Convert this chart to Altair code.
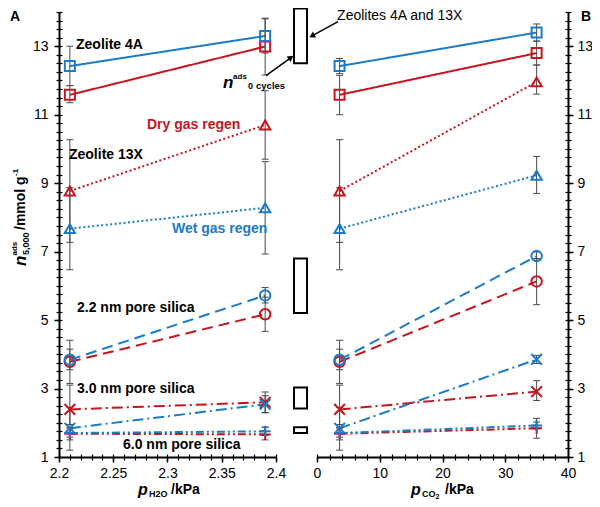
import altair as alt
import pandas as pd

RED = "#C3161E"
BLUE = "#1A7BC8"
GREY = "#4a4a4a"
FONT = "Liberation Sans"

materials = ["4A", "13X", "2.2nm", "3.0nm", "6.0nm"]
regens = ["dry", "wet"]

# x positions of the measurements
x_A = [2.21, 2.39]   # p_H2O / kPa
x_B = [3.6, 35.0]    # p_CO2 / kPa

# Panel A values (n_ads 5,000 / mmol g-1)
A_dry = {"4A": [11.58, 12.99], "13X": [8.77, 10.70], "2.2nm": [3.78, 5.17], "3.0nm": [2.39, 2.60], "6.0nm": [1.68, 1.66]}
A_wet = {"4A": [12.42, 13.30], "13X": [7.67, 8.28], "2.2nm": [3.84, 5.72], "3.0nm": [1.84, 2.54], "6.0nm": [1.70, 1.75]}
# Panel B values
B_dry = {"4A": [11.58, 12.80], "13X": [8.77, 11.96], "2.2nm": [3.78, 6.13], "3.0nm": [2.39, 2.91], "6.0nm": [1.68, 1.84]}
B_wet = {"4A": [12.42, 13.40], "13X": [7.67, 9.23], "2.2nm": [3.84, 6.87], "3.0nm": [1.84, 3.85], "6.0nm": [1.70, 1.92]}

# error bar ends
A_dry_lo = {"4A": [11.35, 12.16], "13X": [7.27, 9.70], "2.2nm": [3.15, 4.67], "3.0nm": [1.95, 2.30], "6.0nm": [1.50, 1.50]}
A_dry_hi = {"4A": [11.85, 13.82], "13X": [10.27, 11.70], "2.2nm": [4.41, 5.67], "3.0nm": [3.10, 2.90], "6.0nm": [1.86, 1.87]}
A_wet_lo = {"4A": [11.85, 12.80], "13X": [6.47, 6.93], "2.2nm": [3.55, 5.50], "3.0nm": [1.20, 2.29], "6.0nm": [1.58, 1.63]}
A_wet_hi = {"4A": [13.00, 13.80], "13X": [8.87, 9.63], "2.2nm": [4.15, 5.95], "3.0nm": [2.45, 2.79], "6.0nm": [1.82, 1.87]}
B_dry_lo = {"4A": [11.00, 12.45], "13X": [7.27, 11.60], "2.2nm": [3.15, 5.45], "3.0nm": [1.95, 2.65], "6.0nm": [1.50, 1.55]}
B_dry_hi = {"4A": [12.15, 13.15], "13X": [10.27, 12.45], "2.2nm": [4.41, 6.80], "3.0nm": [3.10, 3.23], "6.0nm": [1.86, 2.13]}
B_wet_lo = {"4A": [12.20, 13.15], "13X": [6.47, 8.70], "2.2nm": [3.55, 6.75], "3.0nm": [1.20, 3.73], "6.0nm": [1.58, 1.82]}
B_wet_hi = {"4A": [12.64, 13.65], "13X": [8.87, 9.78], "2.2nm": [4.15, 6.99], "3.0nm": [2.45, 3.97], "6.0nm": [1.82, 2.02]}

# n_ads 0 cycles ranges (boxes between the panels, in panel A x units)
box_x = [2.4166, 2.4286]
box_lo = [12.50, 5.21, 2.42, 1.70]
box_hi = [14.10, 6.80, 3.03, 1.87]

y_ticks = [1, 3, 5, 7, 9, 11, 13]
xA_ticks = [2.2, 2.25, 2.3, 2.35, 2.4]
xB_ticks = [0, 10, 20, 30, 40]
y_minor = [1 + 0.25 * i for i in range(53)]
xA_minor = [round(2.2 + 0.01 * i, 2) for i in range(21)]
xB_minor = [2 * i for i in range(21)]


def build(xs, dry, wet, dlo, dhi, wlo, whi):
    rows = []
    for m in materials:
        for r, vals, lo, hi in (("dry", dry, dlo, dhi), ("wet", wet, wlo, whi)):
            for i in range(2):
                rows.append({"material": m, "regen": r, "series": m + r,
                             "x": xs[i], "y": vals[m][i], "lo": lo[m][i], "hi": hi[m][i]})
    return pd.DataFrame(rows)


dfA = build(x_A, A_dry, A_wet, A_dry_lo, A_dry_hi, A_wet_lo, A_wet_hi)
dfB = build(x_B, B_dry, B_wet, B_dry_lo, B_dry_hi, B_wet_lo, B_wet_hi)

yscale = alt.Scale(domain=[1, 14], nice=False, zero=False)
xAscale = alt.Scale(domain=[2.2, 2.4], range=[0, 217], nice=False, zero=False)
xBscale = alt.Scale(domain=[0, 40], range=[258, 509], nice=False, zero=False)

color = alt.Color("regen:N", scale=alt.Scale(domain=regens, range=[RED, BLUE]), legend=None)
dash = alt.StrokeDash("material:N", scale=alt.Scale(domain=materials,
                      range=[[1, 0], [2, 2.5], [11, 6], [11, 4, 2, 4], [8, 3, 2, 3, 2, 3]]), legend=None)
shape = alt.Shape("material:N", scale=alt.Scale(domain=materials,
                  range=["square", "triangle-up", "circle", "M-1,-1L1,1M-1,1L1,-1", "M0,-1L0,1M-1,0L1,0"]), legend=None)
size = alt.Size("material:N", scale=alt.Scale(domain=materials, range=[100, 120, 125, 110, 130]), legend=None)


def main_axis(orient, values, fmt, pad):
    return alt.Axis(orient=orient, values=values, format=fmt, title=None, grid=False,
                    domain=True, domainColor="black", domainWidth=2,
                    ticks=True, tickSize=5, tickWidth=1.5, tickColor="black",
                    labelFont=FONT, labelFontSize=14, labelColor="black", labelPadding=pad,
                    labelFlush=False, labelOverlap=False)


def minor_axis(orient, values):
    return alt.Axis(orient=orient, values=values, title=None, grid=False, domain=False,
                    labels=False, ticks=True, tickSize=6, tickWidth=1.2, tickColor="black", offset=-3)


def panel(df, xscale, xmain, xminor, ymain, yminor):
    base = alt.Chart(df)
    lines = base.mark_line(strokeWidth=2).encode(
        x=alt.X("x:Q", scale=xscale, axis=xmain),
        y=alt.Y("y:Q", scale=yscale, axis=ymain),
        color=color, strokeDash=dash, detail="series:N")
    err = base.mark_rule(color=GREY, strokeWidth=1).encode(
        x=alt.X("x:Q", scale=xscale, axis=None),
        y=alt.Y("lo:Q", scale=yscale, axis=None), y2="hi:Q")
    caps = base.transform_fold(["lo", "hi"], as_=["k", "v"]).mark_tick(
        orient="horizontal", size=7, thickness=1, color=GREY, opacity=1).encode(
        x=alt.X("x:Q", scale=xscale, axis=None),
        y=alt.Y("v:Q", scale=yscale, axis=None))
    pts = base.mark_point(filled=False, strokeWidth=2, opacity=1).encode(
        x=alt.X("x:Q", scale=xscale, axis=xminor),
        y=alt.Y("y:Q", scale=yscale, axis=yminor),
        color=color, shape=shape, size=size)
    return [lines, err, caps, pts]


layersA = panel(dfA, xAscale, main_axis("bottom", xA_ticks, "~g", 4), minor_axis("bottom", xA_minor),
                main_axis("left", y_ticks, "d", 6), minor_axis("left", y_minor))
layersB = panel(dfB, xBscale, main_axis("bottom", xB_ticks, "d", 4), minor_axis("bottom", xB_minor),
                main_axis("right", y_ticks, "d", 4), minor_axis("right", y_minor))

# boxes (n_ads 0 cycles)
df_box = pd.DataFrame({"x0": [box_x[0]] * 4, "x1": [box_x[1]] * 4, "lo": box_lo, "hi": box_hi})
boxes = alt.Chart(df_box).mark_rect(fillOpacity=0, stroke="black", strokeWidth=2).encode(
    x=alt.X("x0:Q", scale=xAscale, axis=None), x2="x1:Q",
    y=alt.Y("lo:Q", scale=yscale, axis=None), y2="hi:Q")

# annotations in panel A (data coordinates)
ann_labels = ["Zeolite 4A", "Zeolite 13X", "Dry gas regen", "Wet gas regen",
              "2.2 nm pore silica", "3.0 nm pore silica", "6.0 nm pore silica"]
ann_x = [2.2157, 2.2092, 2.2811, 2.3041, 2.2166, 2.2166, 2.2590]
ann_y = [13.04, 9.82, 10.69, 7.67, 5.35, 3.00, 1.35]
ann_c = ["black", "black", RED, BLUE, "black", "black", "black"]
df_ann = pd.DataFrame({"label": ann_labels, "x": ann_x, "y": ann_y, "c": ann_c})
annA = alt.Chart(df_ann).mark_text(align="left", baseline="middle", font=FONT, fontSize=14,
                                   fontWeight="bold").encode(
    x=alt.X("x:Q", scale=xAscale, axis=None), y=alt.Y("y:Q", scale=yscale, axis=None),
    text="label:N", color=alt.Color("c:N", scale=None))


def rich_text(parts, x, y, xscale, angle=0, pixel=False):
    out = []
    for txt, dx, dy, fs, style, weight in parts:
        kw = dict(align="left", baseline="middle", font=FONT, fontSize=fs, fontWeight=weight,
                  fontStyle=style, dx=dx, dy=dy, color="black")
        if angle:
            kw["angle"] = angle
        ch = alt.Chart(pd.DataFrame({"t": [txt], "x": [x], "y": [y]})).mark_text(**kw)
        if pixel:
            ch = ch.encode(text="t:N", x=alt.value(x), y=alt.value(y))
        else:
            ch = ch.encode(text="t:N", x=alt.X("x:Q", scale=xscale, axis=None),
                           y=alt.Y("y:Q", scale=yscale, axis=None))
        out.append(ch)
    return out


n0 = rich_text([("n", 0, 0, 17, "italic", "bold"), ("ads", 10, -6, 8, "normal", "bold"),
                ("0", 25, 3, 9, "normal", "bold"), ("cycles", 33, 3, 9.5, "normal", "bold")],
               2.3512, 11.94, xAscale)

# arrows
arr1 = pd.DataFrame({"x0": [2.3908], "y0": [12.14], "x1": [2.4138], "y1": [12.67]})
arrow1 = alt.Chart(arr1).mark_rule(color="black", strokeWidth=1.5).encode(
    x=alt.X("x0:Q", scale=xAscale, axis=None), y=alt.Y("y0:Q", scale=yscale, axis=None),
    x2="x1:Q", y2="y1:Q")
head1 = alt.Chart(arr1).mark_point(shape="triangle-up", filled=True, size=45, angle=54,
                                   color="black", opacity=1).encode(
    x=alt.X("x1:Q", scale=xAscale, axis=None), y=alt.Y("y1:Q", scale=yscale, axis=None))

arr2 = pd.DataFrame({"x0": [3.35], "y0": [13.72], "x1": [-0.8], "y1": [13.30]})
arrow2 = alt.Chart(arr2).mark_rule(color="black", strokeWidth=1.5).encode(
    x=alt.X("x0:Q", scale=xBscale, axis=None), y=alt.Y("y0:Q", scale=yscale, axis=None),
    x2="x1:Q", y2="y1:Q")
head2 = alt.Chart(arr2).mark_point(shape="triangle-up", filled=True, size=45, angle=241,
                                   color="black", opacity=1).encode(
    x=alt.X("x1:Q", scale=xBscale, axis=None), y=alt.Y("y1:Q", scale=yscale, axis=None))

zeo = alt.Chart(pd.DataFrame({"t": ["Zeolites 4A and 13X"], "x": [3.2], "y": [13.88]})).mark_text(
    align="left", baseline="middle", font=FONT, fontSize=14, color="black").encode(
    text="t:N", x=alt.X("x:Q", scale=xBscale, axis=None), y=alt.Y("y:Q", scale=yscale, axis=None))

# axis titles and panel letters (pixel positions relative to plot origin)
ytitle = rich_text([("n", 0, 0, 17, "italic", "bold"), ("ads", 10.5, -6, 8, "normal", "bold"),
                    ("5,000", 11, 5, 9, "normal", "bold"), ("/mmol g", 36, 0, 14, "normal", "bold"),
                    ("-1", 90, -5, 8, "normal", "bold")], -38, 254, None, angle=270, pixel=True)
xtitleA = rich_text([("p", 0, 0, 16, "italic", "bold"), ("H2O", 11, 4, 9, "normal", "bold"),
                     ("/kPa", 33, 0, 14, "normal", "bold")], 79, 478, None, pixel=True)
xtitleB = rich_text([("p", 0, 0, 16, "italic", "bold"), ("CO", 11, 4, 9, "normal", "bold"),
                     ("2", 24.5, 7, 7, "normal", "bold"), ("/kPa", 34, 0, 14, "normal", "bold")],
                    352, 478, None, pixel=True)
letters = rich_text([("A", 0, 0, 14, "normal", "bold")], -49, 5, None, pixel=True) + \
          rich_text([("B", 0, 0, 14, "normal", "bold")], 522, 5, None, pixel=True)

A = alt.layer(*layersA, boxes, annA, *n0, arrow1, head1, *ytitle, *xtitleA, *letters).resolve_axis(
    x="independent", y="independent")
B = alt.layer(*layersB, zeo, arrow2, head2, *xtitleB).resolve_axis(x="independent", y="independent")

chart = alt.layer(A, B).resolve_scale(x="independent").resolve_axis(
    x="independent", y="independent").properties(
    width=509, height=445,
    autosize=alt.AutoSizeParams(type="none"),
    padding={"left": 51, "top": 4, "right": 24, "bottom": 42},
    background="white",
).configure_view(stroke=None)

chart.save("out.html", embed_options={"renderer": "svg", "actions": False})
